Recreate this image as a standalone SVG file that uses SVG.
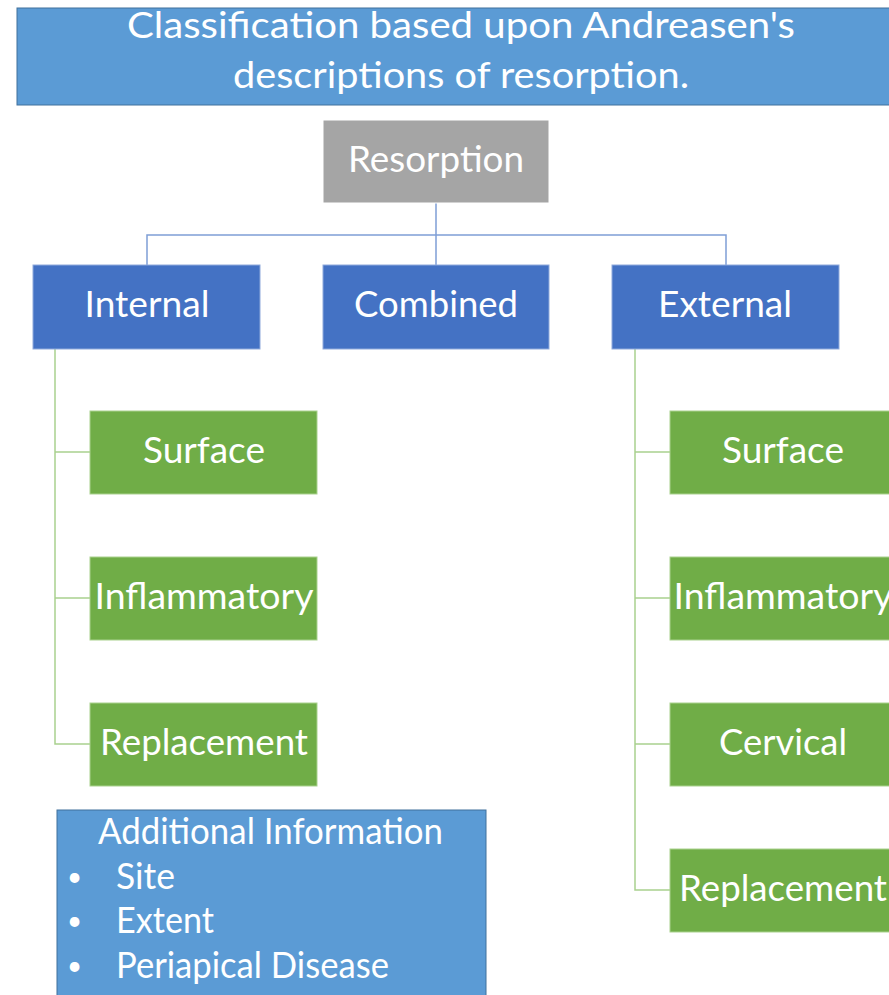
<svg xmlns="http://www.w3.org/2000/svg" width="889" height="995" viewBox="0 0 889 995">
  <style>
    .t { font-family: Lato, "Open Sans", "DejaVu Sans", sans-serif; fill: #ffffff; font-size: 36px; }
    .c { text-anchor: middle; }
    .b { font-size: 26px; }
    .title { fill: #5B9BD5; stroke: #41719C; stroke-width: 1; }
    .grey { fill: #A5A5A5; stroke: #ffffff; stroke-width: 1; }
    .blue { fill: #4472C4; stroke: #8FAADC; stroke-width: 1; }
    .green { fill: #70AD47; stroke: #A9D18E; stroke-width: 1; }
    .lb { fill: none; stroke: #7F9FD6; stroke-width: 1.5; }
    .lg { fill: none; stroke: #A9D18E; stroke-width: 1.5; }
  </style>
  <rect width="889" height="995" fill="#ffffff"/>

  <!-- connectors -->
  <g id="connectors">
    <path class="lb" d="M436,203 V265 M147,265 V235 H726 V265"/>
    <path class="lg" d="M55,349 V744 H90 M55,452 H90 M55,598 H90"/>
    <path class="lg" d="M635,349 V890 H670 M635,452 H670 M635,598 H670 M635,744 H670"/>
  </g>

  <g id="title">
    <rect class="title" x="17" y="8" width="880" height="97"/>
    <text class="t c" x="461" y="38" font-size="38" textLength="668" lengthAdjust="spacingAndGlyphs">Classification based upon Andreasen's</text>
    <text class="t c" x="461" y="88" font-size="38" textLength="456" lengthAdjust="spacingAndGlyphs">descriptions of resorption.</text>
  </g>

  <g id="resorption">
    <rect class="grey" x="323" y="120" width="226" height="83"/>
    <text class="t c" x="436" y="172" textLength="176" lengthAdjust="spacingAndGlyphs">Resorption</text>
  </g>

  <g id="internal">
    <rect class="blue" x="33" y="265" width="227" height="84"/>
    <text class="t c" x="147" y="317" textLength="125" lengthAdjust="spacingAndGlyphs">Internal</text>
  </g>
  <g id="combined">
    <rect class="blue" x="323" y="265" width="226" height="84"/>
    <text class="t c" x="436" y="317" textLength="164" lengthAdjust="spacingAndGlyphs">Combined</text>
  </g>
  <g id="external">
    <rect class="blue" x="612" y="265" width="227" height="84"/>
    <text class="t c" x="725" y="317" textLength="134" lengthAdjust="spacingAndGlyphs">External</text>
  </g>

  <g id="int-surface">
    <rect class="green" x="90" y="411" width="227" height="83"/>
    <text class="t c" x="204" y="463" textLength="122" lengthAdjust="spacingAndGlyphs">Surface</text>
  </g>
  <g id="int-inflammatory">
    <rect class="green" x="90" y="557" width="227" height="83"/>
    <text class="t c" x="204" y="609" textLength="219" lengthAdjust="spacingAndGlyphs">Inflammatory</text>
  </g>
  <g id="int-replacement">
    <rect class="green" x="90" y="703" width="227" height="83"/>
    <text class="t c" x="204" y="755" textLength="208" lengthAdjust="spacingAndGlyphs">Replacement</text>
  </g>

  <g id="ext-surface">
    <rect class="green" x="670" y="411" width="227" height="83"/>
    <text class="t c" x="783" y="463" textLength="122" lengthAdjust="spacingAndGlyphs">Surface</text>
  </g>
  <g id="ext-inflammatory">
    <rect class="green" x="670" y="557" width="227" height="83"/>
    <text class="t c" x="783" y="609" textLength="219" lengthAdjust="spacingAndGlyphs">Inflammatory</text>
  </g>
  <g id="ext-cervical">
    <rect class="green" x="670" y="703" width="227" height="83"/>
    <text class="t c" x="783" y="755" textLength="128" lengthAdjust="spacingAndGlyphs">Cervical</text>
  </g>
  <g id="ext-replacement">
    <rect class="green" x="670" y="849" width="227" height="83"/>
    <text class="t c" x="783" y="901" textLength="208" lengthAdjust="spacingAndGlyphs">Replacement</text>
  </g>

  <g id="additional-info">
    <rect class="title" x="57" y="810" width="429" height="200"/>
    <text class="t" x="98" y="844" textLength="345" lengthAdjust="spacingAndGlyphs">Additional Information</text>
    <text class="t b" x="67" y="886">•</text>
    <text class="t" x="116" y="889" textLength="59" lengthAdjust="spacingAndGlyphs">Site</text>
    <text class="t b" x="67" y="930">•</text>
    <text class="t" x="116" y="933" textLength="98" lengthAdjust="spacingAndGlyphs">Extent</text>
    <text class="t b" x="67" y="975">•</text>
    <text class="t" x="116" y="978" textLength="273" lengthAdjust="spacingAndGlyphs">Periapical Disease</text>
  </g>
</svg>
